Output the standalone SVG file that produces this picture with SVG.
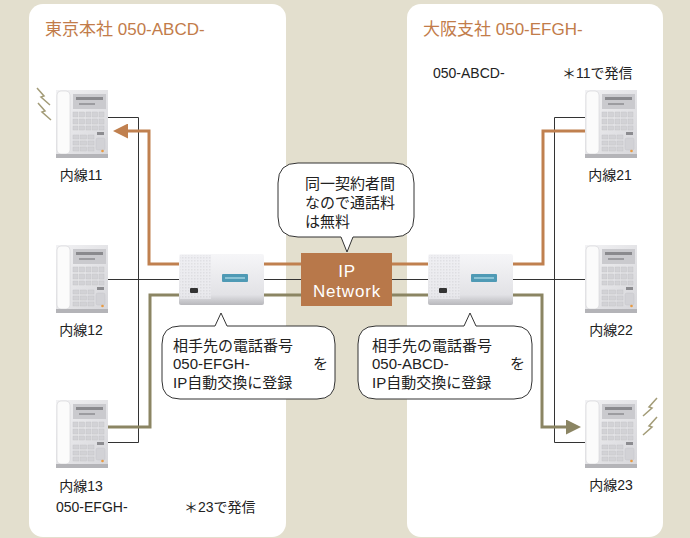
<svg xmlns="http://www.w3.org/2000/svg" width="690" height="538" viewBox="0 0 690 538">
<style>
text{font-family:"Liberation Sans","Noto Sans CJK JP",sans-serif;fill:#222}
.title{font-size:17px;fill:#c27c4a}
.lbl{font-size:14px}
.co{font-size:15px}
.ipt{font-size:17px;fill:#fff;letter-spacing:0.8px}
.callout{fill:#fff;stroke:#333;stroke-width:1}
.blk{fill:none;stroke:#333;stroke-width:1}
.org{fill:none;stroke:#c0804f;stroke-width:3}
.olv{fill:none;stroke:#8b8563;stroke-width:3}
.bolt{fill:none;stroke:#a39c78;stroke-width:1.5}
</style>
<defs>
<linearGradient id="phg" x1="0" y1="0" x2="1" y2="1">
<stop offset="0" stop-color="#f2f2f4"/><stop offset="1" stop-color="#d6d6da"/>
</linearGradient>
<linearGradient id="pbxg" x1="0" y1="0" x2="0" y2="1">
<stop offset="0" stop-color="#f6f6f8"/><stop offset="0.8" stop-color="#e2e2e6"/><stop offset="1" stop-color="#b8b8bc"/>
</linearGradient>
<pattern id="vent" width="3" height="3" patternUnits="userSpaceOnUse">
<rect width="3" height="3" fill="#ececf0"/><rect width="1.5" height="1.5" fill="#d8d8dc"/>
</pattern>
<marker id="aO" viewBox="0 0 10 10" refX="0" refY="5" markerWidth="5" markerHeight="5" orient="auto" markerUnits="strokeWidth">
<path d="M0,0 L10,5 L0,10 z" fill="#c0804f"/>
</marker>
<marker id="aV" viewBox="0 0 10 10" refX="0" refY="5" markerWidth="5" markerHeight="5" orient="auto" markerUnits="strokeWidth">
<path d="M0,0 L10,5 L0,10 z" fill="#8b8563"/>
</marker>
<symbol id="phone" viewBox="0 0 52 68">
<rect width="52" height="68" fill="url(#phg)"/>
<rect x="1" y="1" width="13" height="63" rx="4" fill="#fbfbfb" stroke="#d4d4d6" stroke-width="0.6"/>
<rect x="17" y="4" width="33" height="15" fill="#cacace"/>
<rect x="20" y="7" width="27" height="3" fill="#8a8a8e"/>
<rect x="23" y="13" width="16" height="2" fill="#9c9ca0"/>
<g fill="#d2d2d6" stroke="#c0c0c4" stroke-width="0.4">
<rect x="17" y="22" width="5" height="5"/><rect x="23.5" y="22" width="5" height="5"/><rect x="30" y="22" width="5" height="5"/><rect x="36.5" y="22" width="5" height="5"/><rect x="43" y="22" width="5" height="5"/>
<rect x="17" y="29" width="5" height="5"/><rect x="23.5" y="29" width="5" height="5"/><rect x="30" y="29" width="5" height="5"/><rect x="36.5" y="29" width="5" height="5"/><rect x="43" y="29" width="5" height="5"/>
<rect x="17" y="36" width="5" height="4"/><rect x="23.5" y="36" width="5" height="4"/><rect x="30" y="36" width="5" height="4"/><rect x="36.5" y="36" width="5" height="4"/><rect x="43" y="36" width="5" height="4"/>
<rect x="17" y="45" width="6" height="4"/><rect x="24.5" y="45" width="6" height="4"/><rect x="32" y="45" width="6" height="4"/>
<rect x="17" y="51" width="6" height="4"/><rect x="24.5" y="51" width="6" height="4"/><rect x="32" y="51" width="6" height="4"/>
<rect x="17" y="57" width="6" height="4"/><rect x="24.5" y="57" width="6" height="4"/><rect x="32" y="57" width="6" height="4"/>
<rect x="40" y="48" width="9" height="12" rx="2"/>
</g>
<rect x="41" y="42" width="7" height="3" fill="#8c8c90"/>
<circle cx="46.5" cy="61" r="1.3" fill="#e89a40"/>
<rect x="0" y="64" width="52" height="4" fill="#b4b4b8"/>
</symbol>
<symbol id="pbx" viewBox="0 0 85 51">
<rect width="85" height="51" rx="2" fill="url(#pbxg)"/>
<rect x="1" y="1" width="31" height="44" fill="url(#vent)" opacity="0.7"/>
<rect x="43" y="20" width="26" height="8" rx="1" fill="#4f9ab5"/>
<rect x="46" y="23" width="20" height="2" fill="#8cc4d6"/>
<rect x="11" y="34" width="8" height="5" rx="1" fill="#333"/>
</symbol>
</defs>
<rect width="690" height="538" fill="#e3dfce"/>
<g id="tokyo">
<rect x="29" y="4" width="257" height="533" rx="14" fill="#fff"/>
<text class="title" x="45" y="35">東京本社 050-ABCD-</text>
</g>
<g id="osaka">
<rect x="407" y="4" width="256" height="533" rx="14" fill="#fff"/>
<text class="title" x="423" y="35">大阪支社 050-EFGH-</text>
<text class="lbl" x="433" y="78">050-ABCD-</text>
<text class="lbl" x="562" y="78">＊11で発信</text>
</g>
<g id="connectors">
<path class="blk" d="M108,117.5 H138.5 V442.5 H108"/>
<path class="blk" d="M108,279.5 H179"/>
<path class="blk" d="M263,279.5 H301"/>
<path class="blk" d="M392,279.5 H428"/>
<path class="blk" d="M513,279.5 H585"/>
<path class="blk" d="M585,117.5 H554.5 V442.5 H585"/>
<path class="org" d="M179,264 H149 V131 H128" marker-end="url(#aO)"/>
<path class="org" d="M263,264 H301"/>
<path class="org" d="M392,264 H428"/>
<path class="org" d="M513,264 H543 V131 H585"/>
<path class="olv" d="M179,295 H150 V427 H108"/>
<path class="olv" d="M263,295 H301"/>
<path class="olv" d="M392,295 H428"/>
<path class="olv" d="M513,295 H542 V427 H566" marker-end="url(#aV)"/>
</g>
<g id="ext11">
<use href="#phone" x="56" y="90" width="52" height="68"/>
<path class="bolt" d="M37,88 L44,96 L41,97 L50,105"/>
<path class="bolt" d="M38,103 L45,111 L42,112 L51,120"/>
<text class="lbl" x="81" y="180" text-anchor="middle">内線11</text>
</g>
<g id="ext12">
<use href="#phone" x="56" y="245" width="52" height="68"/>
<text class="lbl" x="81" y="335" text-anchor="middle">内線12</text>
</g>
<g id="ext13">
<use href="#phone" x="56" y="400" width="52" height="68"/>
<text class="lbl" x="81" y="491" text-anchor="middle">内線13</text>
<text class="lbl" x="56" y="512">050-EFGH-</text>
<text class="lbl" x="184" y="512">＊23で発信</text>
</g>
<g id="ext21">
<use href="#phone" x="585" y="90" width="52" height="68"/>
<text class="lbl" x="610" y="180" text-anchor="middle">内線21</text>
</g>
<g id="ext22">
<use href="#phone" x="585" y="245" width="52" height="68"/>
<text class="lbl" x="611" y="335" text-anchor="middle">内線22</text>
</g>
<g id="ext23">
<use href="#phone" x="585" y="400" width="52" height="68"/>
<path class="bolt" d="M657,398 L649,407 L652,408 L643,416"/>
<path class="bolt" d="M657,417 L649,426 L652,427 L643,435"/>
<text class="lbl" x="611" y="490" text-anchor="middle">内線23</text>
</g>
<g id="pbx-tokyo">
<use href="#pbx" x="179" y="254" width="85" height="51"/>
</g>
<g id="pbx-osaka">
<use href="#pbx" x="428" y="254" width="85" height="51"/>
</g>
<g id="ip-network">
<rect x="301" y="253" width="91" height="53" fill="#b8784a"/>
<text class="ipt" x="347" y="277" text-anchor="middle">IP</text>
<text class="ipt" x="347" y="297" text-anchor="middle">Network</text>
</g>
<g id="callout-free">
<path class="callout" d="M298,163 H394 Q414,163 414,183 V217 Q414,237 394,237 H353 L347,252 L341,237 H298 Q278,237 278,217 V183 Q278,163 298,163 Z"/>
<text class="co" x="305" y="188.5">同一契約者間</text>
<text class="co" x="305" y="207.5">なので通話料</text>
<text class="co" x="305" y="226.5">は無料</text>
</g>
<g id="callout-tokyo">
<path class="callout" d="M215,326 L221,313 L227,326 H317 Q335,326 335,344 V381 Q335,399 317,399 H180 Q162,399 162,381 V344 Q162,326 180,326 Z"/>
<text class="co" x="173" y="350.5">相手先の電話番号</text>
<text class="co" x="173" y="368.5">050-EFGH-</text>
<text class="co" x="313" y="368.5">を</text>
<text class="co" x="173" y="387.5">IP自動交換に登録</text>
</g>
<g id="callout-osaka">
<path class="callout" d="M464,326 L470,313 L476,326 H514 Q532,326 532,344 V381 Q532,399 514,399 H376 Q358,399 358,381 V344 Q358,326 376,326 Z"/>
<text class="co" x="372" y="350.5">相手先の電話番号</text>
<text class="co" x="372" y="368.5">050-ABCD-</text>
<text class="co" x="510" y="368.5">を</text>
<text class="co" x="372" y="387.5">IP自動交換に登録</text>
</g>
</svg>
